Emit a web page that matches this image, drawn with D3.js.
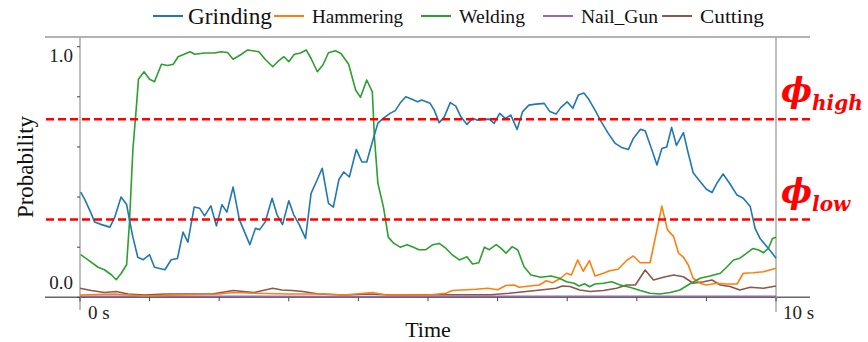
<!DOCTYPE html>
<html>
<head>
<meta charset="utf-8">
<script src="https://cdn.jsdelivr.net/npm/d3@7"></script>
<style>
  body { margin: 0; background: #fff; }
  svg { display: block; }
  svg text { font-family: "Liberation Serif", "Times New Roman", Tinos, serif; }
</style>
</head>
<body>
<svg id="chart"></svg>
<script>
// series: [time in s, probability]
const grinding = [[0.01,0.42],[0.07,0.39],[0.16,0.335],[0.21,0.30],[0.31,0.29],[0.43,0.28],[0.50,0.32],[0.59,0.40],[0.67,0.37],[0.71,0.31],[0.76,0.24],[0.83,0.16],[0.91,0.15],[1.00,0.17],[1.07,0.12],[1.22,0.11],[1.31,0.15],[1.40,0.155],[1.48,0.26],[1.55,0.22],[1.64,0.36],[1.72,0.355],[1.79,0.325],[1.88,0.365],[1.96,0.285],[2.04,0.37],[2.11,0.34],[2.20,0.44],[2.29,0.31],[2.44,0.21],[2.52,0.275],[2.58,0.27],[2.66,0.30],[2.76,0.395],[2.83,0.33],[2.91,0.29],[3.00,0.385],[3.07,0.33],[3.15,0.29],[3.24,0.235],[3.32,0.415],[3.41,0.47],[3.48,0.515],[3.57,0.375],[3.64,0.36],[3.72,0.47],[3.79,0.50],[3.87,0.48],[3.97,0.59],[4.05,0.54],[4.12,0.54],[4.20,0.62],[4.28,0.695],[4.36,0.715],[4.46,0.735],[4.53,0.745],[4.60,0.775],[4.68,0.80],[4.77,0.79],[4.85,0.78],[4.91,0.787],[5.03,0.774],[5.09,0.747],[5.16,0.697],[5.23,0.718],[5.32,0.777],[5.40,0.763],[5.47,0.721],[5.56,0.69],[5.64,0.714],[5.71,0.707],[5.79,0.71],[5.88,0.711],[5.95,0.694],[6.03,0.734],[6.11,0.714],[6.19,0.727],[6.28,0.67],[6.36,0.741],[6.45,0.767],[6.55,0.771],[6.67,0.774],[6.75,0.741],[6.84,0.731],[6.91,0.758],[7.00,0.78],[7.08,0.754],[7.16,0.807],[7.24,0.815],[7.31,0.79],[7.40,0.747],[7.49,0.70],[7.59,0.654],[7.69,0.614],[7.78,0.598],[7.88,0.59],[7.95,0.634],[8.05,0.67],[8.12,0.665],[8.21,0.594],[8.29,0.528],[8.36,0.594],[8.43,0.60],[8.50,0.678],[8.57,0.606],[8.67,0.657],[8.74,0.574],[8.81,0.497],[8.90,0.465],[9.00,0.431],[9.08,0.418],[9.15,0.455],[9.24,0.492],[9.34,0.452],[9.44,0.408],[9.53,0.395],[9.63,0.362],[9.70,0.275],[9.77,0.235],[9.87,0.202],[9.94,0.178],[10.0,0.156]];

const hammering = [[0,0.009],[0.5,0.013],[0.7,0.009],[0.93,0.005],[1.4,0.009],[2.0,0.013],[2.2,0.019],[2.5,0.016],[3.0,0.013],[3.5,0.013],[3.8,0.009],[4.2,0.019],[4.4,0.009],[5.0,0.009],[5.26,0.016],[5.35,0.027],[5.69,0.032],[5.86,0.036],[6.0,0.03],[6.12,0.047],[6.24,0.049],[6.31,0.04],[6.46,0.045],[6.6,0.049],[6.7,0.066],[6.79,0.058],[6.9,0.075],[6.99,0.096],[7.06,0.089],[7.15,0.149],[7.23,0.104],[7.32,0.146],[7.40,0.085],[7.52,0.096],[7.61,0.106],[7.73,0.112],[7.85,0.146],[7.95,0.165],[8.05,0.138],[8.19,0.138],[8.29,0.269],[8.36,0.364],[8.44,0.269],[8.53,0.242],[8.60,0.176],[8.67,0.16],[8.74,0.129],[8.81,0.076],[8.91,0.056],[9.00,0.049],[9.15,0.056],[9.29,0.053],[9.44,0.053],[9.53,0.096],[9.67,0.098],[9.82,0.102],[10.0,0.116]];

const welding = [[0.01,0.17],[0.11,0.15],[0.26,0.12],[0.35,0.11],[0.45,0.09],[0.52,0.07],[0.59,0.095],[0.67,0.13],[0.71,0.295],[0.76,0.59],[0.81,0.76],[0.84,0.87],[0.92,0.90],[1.00,0.87],[1.07,0.86],[1.17,0.93],[1.26,0.925],[1.34,0.93],[1.41,0.96],[1.58,0.98],[1.65,0.97],[1.79,0.975],[1.93,0.975],[2.03,0.98],[2.12,0.977],[2.20,0.95],[2.32,0.97],[2.41,0.987],[2.57,0.98],[2.66,0.95],[2.77,0.92],[2.84,0.94],[2.93,0.96],[3.00,0.94],[3.08,0.97],[3.17,0.975],[3.25,0.987],[3.32,0.953],[3.41,0.90],[3.49,0.927],[3.57,0.976],[3.67,0.984],[3.75,0.973],[3.86,0.93],[3.96,0.827],[4.03,0.798],[4.12,0.867],[4.20,0.82],[4.23,0.64],[4.28,0.455],[4.36,0.36],[4.43,0.24],[4.51,0.215],[4.60,0.20],[4.70,0.21],[4.79,0.20],[4.87,0.19],[4.97,0.19],[5.07,0.21],[5.16,0.215],[5.26,0.195],[5.35,0.169],[5.45,0.149],[5.56,0.162],[5.64,0.133],[5.73,0.138],[5.81,0.20],[5.88,0.19],[5.98,0.21],[6.05,0.195],[6.12,0.176],[6.21,0.202],[6.29,0.189],[6.38,0.122],[6.48,0.089],[6.62,0.08],[6.77,0.085],[6.89,0.076],[6.99,0.062],[7.10,0.056],[7.17,0.045],[7.25,0.054],[7.32,0.042],[7.40,0.053],[7.52,0.056],[7.64,0.062],[7.76,0.049],[7.90,0.04],[8.05,0.027],[8.19,0.016],[8.33,0.013],[8.48,0.019],[8.62,0.029],[8.76,0.053],[8.91,0.076],[9.05,0.085],[9.20,0.096],[9.29,0.12],[9.39,0.149],[9.48,0.156],[9.58,0.176],[9.67,0.195],[9.75,0.189],[9.82,0.178],[9.89,0.195],[9.95,0.235],[10.0,0.24]];

const nailGun = [[0,0.004],[2,0.004],[4,0.003],[6,0.004],[8,0.004],[10,0.004]];

const cutting = [[0,0.036],[0.16,0.027],[0.35,0.019],[0.52,0.023],[0.69,0.013],[0.93,0.009],[1.22,0.013],[1.9,0.013],[2.2,0.027],[2.5,0.019],[2.77,0.036],[2.9,0.029],[3.05,0.027],[3.2,0.023],[3.43,0.013],[3.8,0.009],[4.15,0.013],[4.5,0.009],[5.0,0.01],[5.9,0.01],[6.17,0.016],[6.41,0.023],[6.65,0.03],[6.84,0.036],[6.93,0.045],[7.04,0.043],[7.18,0.029],[7.33,0.023],[7.52,0.027],[7.71,0.036],[7.85,0.049],[7.98,0.049],[8.12,0.109],[8.24,0.069],[8.38,0.08],[8.53,0.089],[8.67,0.082],[8.81,0.056],[8.96,0.062],[9.08,0.069],[9.20,0.049],[9.34,0.043],[9.48,0.029],[9.63,0.04],[9.82,0.036],[10.0,0.045]];

const seriesNames = ["Grinding", "Hammering", "Welding", "Nail_Gun", "Cutting"];
const seriesData = [grinding, hammering, welding, nailGun, cutting];
const colors = ["#1f77b4", "#ff7f0e", "#2ca02c", "#9467bd", "#8c564b"];

const thresholds = [0.71, 0.31];
const thresholdLabels = ["high", "low"];
const yTickValues = [0, 0.2, 0.4, 0.6, 0.8, 1.0];
const xTickValues = [0, 1, 2, 3, 4, 5, 6, 7, 8, 9, 10];

class ProbChart {
  constructor(_config) {
    this.config = {
      parentElement: _config.parentElement,
      containerWidth: _config.containerWidth || 868,
      containerHeight: _config.containerHeight || 342,
      left: 80, right: 776, top: 46.7, bottom: 297.3
    };
    this.initVis();
  }

  initVis() {
    let vis = this;
    let c = vis.config;

    vis.svg = d3.select(c.parentElement)
      .attr('width', c.containerWidth)
      .attr('height', c.containerHeight);

    vis.x = d3.scaleLinear().domain([0, 10]).range([c.left, c.right]);
    vis.y = d3.scaleLinear().domain([0, 1]).range([c.bottom, c.top]);

    // frame lines
    vis.svg.append('line')
      .attr('x1', 45).attr('x2', 810).attr('y1', 37).attr('y2', 37)
      .style('stroke', '#666').style('stroke-width', 1.2);
    vis.svg.append('line')
      .attr('x1', 45).attr('x2', 810).attr('y1', c.bottom).attr('y2', c.bottom)
      .style('stroke', '#666').style('stroke-width', 1.5);
    vis.svg.append('line')
      .attr('x1', c.left).attr('x2', c.left).attr('y1', 37).attr('y2', 310)
      .style('stroke', '#aaa').style('stroke-width', 1.5);
    vis.svg.append('line')
      .attr('x1', c.right).attr('x2', c.right).attr('y1', 37).attr('y2', 312)
      .style('stroke', '#aaa').style('stroke-width', 1.5);

    vis.updateVis();
  }

  updateVis() {
    let vis = this;
    let c = vis.config;

    // y ticks
    vis.svg.append('g')
      .selectAll('line')
      .data(yTickValues)
      .enter()
      .append('line')
        .attr('x1', c.left - 3).attr('x2', c.left)
        .attr('y1', d => vis.y(d)).attr('y2', d => vis.y(d))
        .style('stroke', '#444').style('stroke-width', 1);

    vis.svg.append('text')
      .attr('x', 73).attr('y', vis.y(1) + 15)
      .attr('text-anchor', 'end')
      .style('font-size', '19px').style('fill', '#222')
      .text('1.0');
    vis.svg.append('text')
      .attr('x', 73).attr('y', vis.y(0) - 8)
      .attr('text-anchor', 'end')
      .style('font-size', '19px').style('fill', '#222')
      .text('0.0');

    // x ticks
    vis.svg.append('g')
      .selectAll('line')
      .data(xTickValues)
      .enter()
      .append('line')
        .attr('x1', d => vis.x(d)).attr('x2', d => vis.x(d))
        .attr('y1', c.bottom).attr('y2', c.bottom + 4)
        .style('stroke', '#444').style('stroke-width', 1);

    vis.svg.append('text')
      .attr('x', vis.x(0) + 8).attr('y', 319)
      .style('font-size', '19px').style('fill', '#222')
      .text('0 s');
    vis.svg.append('text')
      .attr('x', vis.x(10) + 7).attr('y', 319)
      .style('font-size', '19px').style('fill', '#222')
      .text('10 s');

    vis.svg.append('text')
      .attr('x', 428).attr('y', 337)
      .attr('text-anchor', 'middle')
      .style('font-size', '22px').style('fill', '#111')
      .text('Time');

    vis.svg.append('text')
      .attr('transform', 'translate(33,167) rotate(-90)')
      .attr('text-anchor', 'middle')
      .style('font-size', '23px').style('fill', '#111')
      .text('Probability');

    // series
    let line = d3.line()
      .x(d => vis.x(d[0]))
      .y(d => vis.y(d[1]));

    // draw back to front so grinding ends up on top like the original
    let order = [3, 4, 1, 2, 0];
    vis.svg.append('g')
      .selectAll('path')
      .data(order)
      .enter()
      .append('path')
        .attr('d', i => line(seriesData[i]))
        .style('fill', 'none')
        .style('stroke', i => colors[i])
        .style('stroke-width', 1.6)
        .style('stroke-linejoin', 'round');

    // threshold lines
    vis.svg.append('g')
      .selectAll('line')
      .data(thresholds)
      .enter()
      .append('line')
        .attr('x1', 46).attr('x2', 810)
        .attr('y1', d => vis.y(d)).attr('y2', d => vis.y(d))
        .style('stroke', '#ff0000')
        .style('stroke-width', 2.5)
        .style('stroke-dasharray', '8,4');

    let phi = vis.svg.append('g')
      .selectAll('text')
      .data(thresholds)
      .enter()
      .append('text')
        .attr('x', 781)
        .attr('y', d => vis.y(d) - 17)
        .style('fill', '#ff0000')
        .style('font-family', '"DejaVu Serif", serif')
        .style('font-weight', 'bold')
        .style('font-style', 'italic');
    phi.append('tspan')
      .style('font-size', '33px')
      .text('ϕ');
    phi.append('tspan')
      .attr('dy', 8)
      .style('font-size', '20px')
      .text((d, i) => thresholdLabels[i]);

    // legend
    let legendX = [153, 274, 421, 543, 662];
    let legendW = [84, 91, 66, 77, 64];
    let legend = vis.svg.append('g')
      .selectAll('g')
      .data(seriesNames)
      .enter()
      .append('g')
      .attr('transform', (d, i) => `translate(${legendX[i]},0)`);
    legend.append('line')
      .attr('x1', 0).attr('x2', 30).attr('y1', 16).attr('y2', 16)
      .style('stroke', (d, i) => colors[i])
      .style('stroke-width', 2);
    legend.append('text')
      .attr('x', (d, i) => i == 0 ? 35 : 38)
      .attr('y', (d, i) => i == 0 ? 24 : 23)
      .attr('textLength', (d, i) => legendW[i])
      .attr('lengthAdjust', 'spacingAndGlyphs')
      .style('font-size', (d, i) => i == 0 ? '23px' : '19px')
      .style('fill', '#111')
      .text(d => d);
  }
}

new ProbChart({ parentElement: '#chart', containerWidth: 868, containerHeight: 342 });
</script>
</body>
</html>
